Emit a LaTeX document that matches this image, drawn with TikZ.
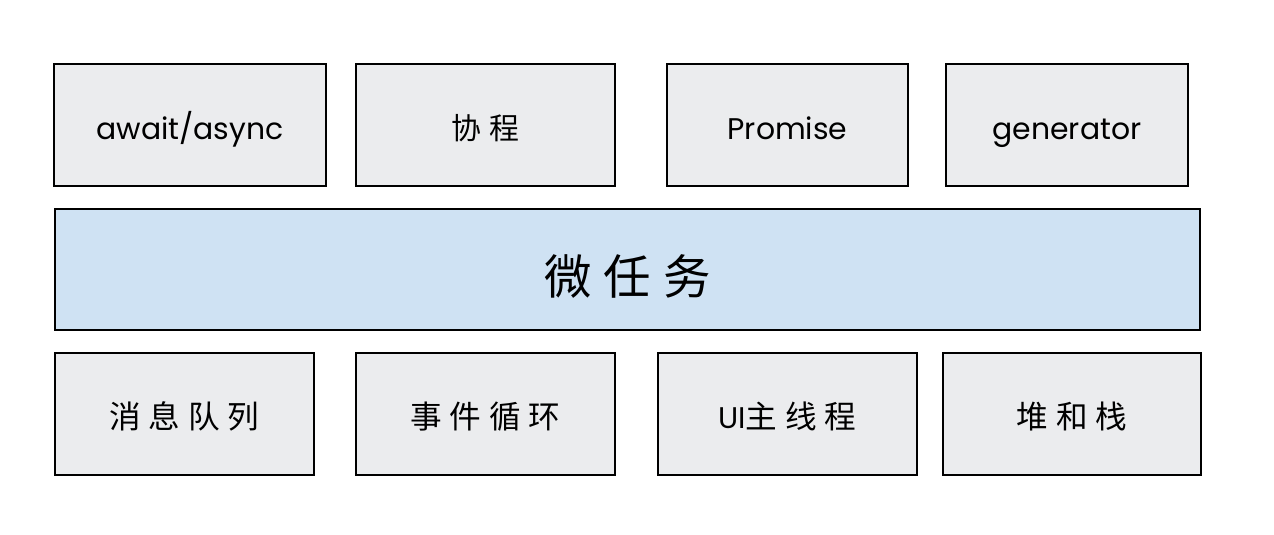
\documentclass[tikz,border=0pt]{standalone}
\usepackage{fontspec}
\setmainfont{Poppins}
\newfontfamily\cjk[LetterSpace=25]{Noto Sans CJK SC}
\usepackage{tikz}
\definecolor{boxgray}{HTML}{EBECEE}
\definecolor{boxblue}{HTML}{CFE2F3}
\tikzset{
  box/.style={draw=black, line width=1.4pt, fill=boxgray, minimum height=2.44cm, inner sep=0pt, text height=17pt, text depth=0pt, font=\fontsize{17}{20}\selectfont},
  bigbox/.style={box, fill=boxblue, minimum height=2.42cm, text height=28pt, font=\fontsize{27}{32}\selectfont\cjk}
}

\begin{document}
\begin{tikzpicture}[x=0.02cm, y=-0.02cm]
      \useasboundingbox (0, 0) rectangle (1274, 534);
      \node[box, minimum width=5.44cm] (await) at (190, 125) {await/async};
      \node[box, minimum width=5.18cm] (xiecheng) at (485.5, 125) {\cjk 协程};
      \node[box, minimum width=4.82cm] (promise) at (787.5, 125) {Promise};
      \node[box, minimum width=4.84cm] (generator) at (1067, 125) {generator};
      \node[bigbox, minimum width=22.9cm] (micro) at (627.5, 269.5) {微任务\hspace{-0.2em}};
      \node[box, minimum width=5.18cm] (queue) at (184.5, 414) {\cjk\fontsize{18}{20}\selectfont 消息队列};
      \node[box, minimum width=5.18cm] (loop) at (485.5, 414) {\cjk\fontsize{18}{20}\selectfont 事件循环};
      \node[box, minimum width=5.18cm] (uithread) at (787.5, 414) {UI{\cjk\fontsize{18}{20}\selectfont 主线程}};
      \node[box, minimum width=5.16cm] (stack) at (1072, 414) {\cjk\fontsize{18}{20}\selectfont 堆和栈};
    \end{tikzpicture}
\end{document}
